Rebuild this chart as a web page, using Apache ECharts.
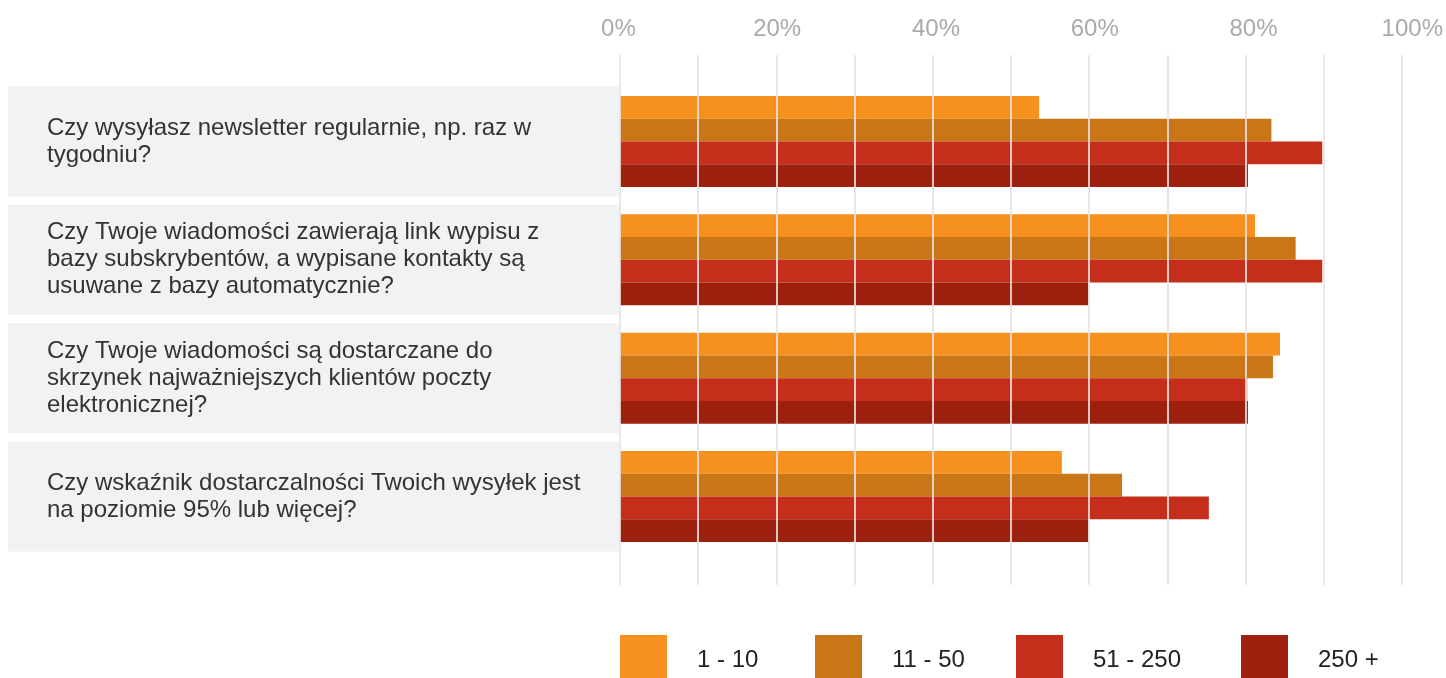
<!DOCTYPE html>
<html>
<head>
<meta charset="utf-8">
<script src="https://cdn.jsdelivr.net/npm/echarts@6/dist/echarts.min.js"></script>
<style>
html,body{margin:0;padding:0;background:#fff;}
#chart{width:1446px;height:678px;}
</style>
</head>
<body>
<div id="chart"></div>
<script>
var categories = [
  "Czy wysyłasz newsletter regularnie, np. raz w\ntygodniu?",
  "Czy Twoje wiadomości zawierają link wypisu z\nbazy subskrybentów, a wypisane kontakty są\nusuwane z bazy automatycznie?",
  "Czy Twoje wiadomości są dostarczane do\nskrzynek najważniejszych klientów poczty\nelektronicznej?",
  "Czy wskaźnik dostarczalności Twoich wysyłek jest\nna poziomie 95% lub więcej?"
];
var seriesNames = ["1 - 10", "11 - 50", "51 - 250", "250 +"];
var s1_10   = [53.6, 81.2, 84.4, 56.5];
var s11_50  = [83.3, 86.4, 83.5, 64.2];
var s51_250 = [89.8, 89.8, 80.2, 75.3];
var s250p   = [80.3, 59.9, 80.3, 59.9];
var xTickLabels = ["0%", "20%", "40%", "60%", "80%", "100%"];
var colors = ["#f6901e", "#c97616", "#c52e1a", "#9e2110"];

var seriesValues = [s1_10, s11_50, s51_250, s250p];
var legendLefts = [620, 815, 1016, 1241];

var chart = echarts.init(document.getElementById('chart'), null, {renderer: 'canvas'});

var series = [{
  type: 'custom',
  xAxisIndex: 0, yAxisIndex: 0,
  z: 1,
  silent: true,
  clip: false,
  data: categories.map(function (c, i) { return [0, i]; }),
  renderItem: function (params, api) {
    var p = api.coord([0, api.value(1)]);
    var band = api.size([0, 1])[1];
    var h = band * 0.93;
    return {
      type: 'rect',
      shape: {x: 8, y: p[1] - h / 2, width: p[0] - 9, height: h},
      style: {fill: '#f1f2f4'}
    };
  }
}];
seriesValues.forEach(function (vals, i) {
  series.push({
    name: seriesNames[i],
    type: 'bar',
    xAxisIndex: 0, yAxisIndex: 0,
    z: 2,
    barGap: '0%',
    barCategoryGap: '23.1%',
    itemStyle: {color: colors[i]},
    data: vals
  });
});

var legends = seriesNames.map(function (n, i) {
  return {
    data: [n],
    left: legendLefts[i],
    top: 635,
    padding: 0,
    icon: 'rect',
    itemWidth: 47,
    itemHeight: 50,
    selectedMode: false,
    textStyle: {fontFamily: 'Liberation Sans', fontSize: 24, color: '#222', padding: [0, 0, 0, 25]}
  };
});

chart.setOption({
  animation: false,
  color: colors,
  legend: legends,
  grid: [
    {left: 620, right: 44, top: 82.3, bottom: 122.3},
    {left: 620, right: 44, top: 55, bottom: 93},
    {left: 618.4, right: 33.3, top: 55, bottom: 93}
  ],
  xAxis: [
    {gridIndex: 0, type: 'value', min: 0, max: 100, show: false},
    {gridIndex: 1, type: 'value', min: 0, max: 100, interval: 10, position: 'top', z: 5,
     axisLine: {show: false}, axisTick: {show: false}, axisLabel: {show: false},
     splitLine: {show: true, lineStyle: {color: 'rgba(228,228,228,0.85)', width: 2}}
    },
    {gridIndex: 2, type: 'value', min: 0, max: 100, interval: 20, position: 'top',
     axisLine: {show: false}, axisTick: {show: false}, splitLine: {show: false},
     axisLabel: {
       margin: 14, color: '#aaaaaa', fontFamily: 'Liberation Sans', fontSize: 24,
       formatter: function (v) { return xTickLabels[Math.round(v / 20)]; }
     }
    }
  ],
  yAxis: [
    {gridIndex: 0, type: 'category', data: categories, inverse: true, z: 3,
     axisLine: {show: false}, axisTick: {show: false}, splitLine: {show: false},
     axisLabel: {align: 'left', margin: 573, fontFamily: 'Liberation Sans', fontSize: 24,
                 lineHeight: 27, color: '#333333', padding: [2, 0, 0, 0]}
    },
    {gridIndex: 1, type: 'value', min: 0, max: 1, show: false},
    {gridIndex: 2, type: 'value', min: 0, max: 1, show: false}
  ],
  series: series
});
</script>
</body>
</html>
